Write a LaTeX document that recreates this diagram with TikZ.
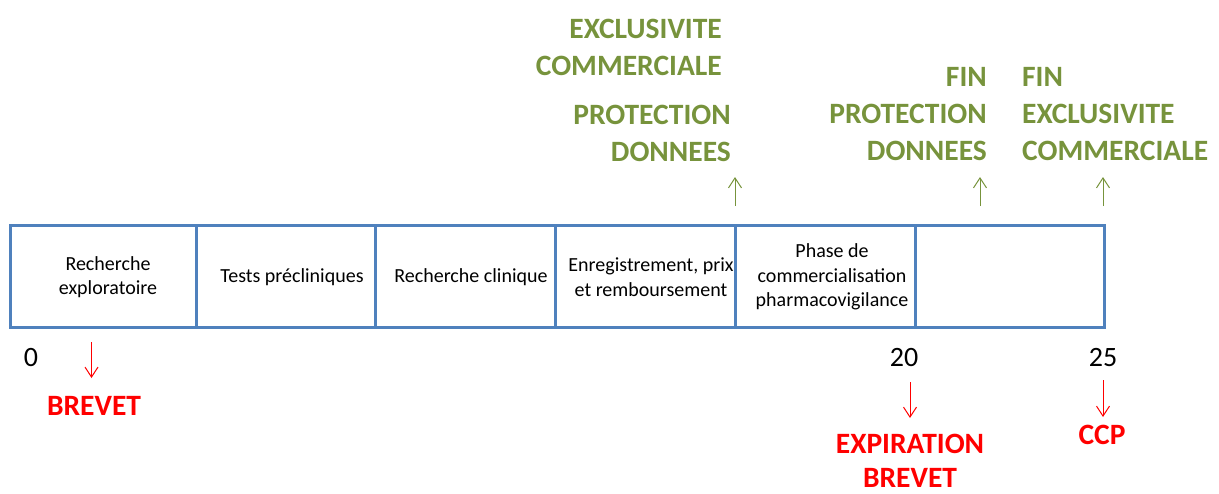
\documentclass[tikz,border=0pt]{standalone}
\usepackage{fontspec}
\setmainfont{Carlito}
\usetikzlibrary{arrows.meta}
\definecolor{boxblue}{HTML}{4F81BD}
\definecolor{olivegreen}{HTML}{77933C}
\definecolor{alertred}{HTML}{FF0000}
\begin{document}
\begin{tikzpicture}[x=1pt,y=-1pt,
  cell/.style={draw=boxblue, line width=3pt, minimum height=102pt, inner sep=0pt},
  phase/.style={font=\fontsize{20}{24.5}\selectfont, align=center, inner sep=0pt},
  greenlbl/.style={text=olivegreen, font=\fontsize{29.5}{37}\selectfont\bfseries, inner sep=0pt},
  redlbl/.style={text=alertred, font=\fontsize{29.5}{34}\selectfont\bfseries, inner sep=0pt, align=center},
  yearlbl/.style={font=\fontsize{28}{34}\selectfont, inner sep=0pt},
  redarrow/.style={draw=alertred, line width=1pt, -{Straight Barb[length=10pt,width=13pt]}},
  greenarrow/.style={draw=olivegreen, line width=1pt, -{Straight Barb[length=10pt,width=13pt]}}
]
\useasboundingbox (0,0) rectangle (1219,493);

% timeline cells
\node[cell, minimum width=186pt] (c1) at (103,276) {};
\node[cell, minimum width=179pt] (c2) at (285.5,276) {};
\node[cell, minimum width=180pt] (c3) at (465,276) {};
\node[cell, minimum width=180pt] (c4) at (645,276) {};
\node[cell, minimum width=180pt] (c5) at (825,276) {};
\node[cell, minimum width=189pt] (c6) at (1009.5,276) {};

% phase texts
\node[phase] (t1) at (108,277) {Recherche\\exploratoire};
\node[phase] (t2) at (292,277) {Tests précliniques};
\node[phase] (t3) at (471,277) {Recherche clinique};
\node[phase] (t4) at (651,277) {Enregistrement, prix\\et remboursement};
\node[phase] (t5) at (832,277) {Phase de\\commercialisation\\pharmacovigilance};

% years
\node[yearlbl] (y0) at (31,358) {0};
\node[yearlbl] (y20) at (904,358) {20};
\node[yearlbl] (y25) at (1103,358) {25};

% green labels
\node[greenlbl, align=right, anchor=east] (g1) at (722,47) {EXCLUSIVITE\\COMMERCIALE};
\node[greenlbl, align=right, anchor=east] (g2) at (731,133.5) {PROTECTION\\DONNEES};
\node[greenlbl, align=right, anchor=east] (g3) at (987,114) {FIN\\PROTECTION\\DONNEES};
\node[greenlbl, align=left, anchor=west] (g4) at (1022,114) {FIN\\EXCLUSIVITE\\COMMERCIALE};

% green arrows
\coordinate (ga0) at (735,206); \coordinate (ga1) at (735,177);
\coordinate (gb0) at (980,206); \coordinate (gb1) at (980,177);
\coordinate (gc0) at (1103,206); \coordinate (gc1) at (1103,177);
\draw[greenarrow] (ga0) -- (ga1);
\draw[greenarrow] (gb0) -- (gb1);
\draw[greenarrow] (gc0) -- (gc1);

% red labels
\node[redlbl] (r1) at (94,406) {BREVET};
\node[redlbl] (r2) at (910,461) {EXPIRATION\\BREVET};
\node[redlbl] (r3) at (1102,435) {CCP};

% red arrows
\coordinate (ra0) at (91.5,342); \coordinate (ra1) at (91.5,378);
\coordinate (rb0) at (910,382); \coordinate (rb1) at (910,418);
\coordinate (rc0) at (1103,380); \coordinate (rc1) at (1103,417);
\draw[redarrow] (ra0) -- (ra1);
\draw[redarrow] (rb0) -- (rb1);
\draw[redarrow] (rc0) -- (rc1);
\end{tikzpicture}
\end{document}
